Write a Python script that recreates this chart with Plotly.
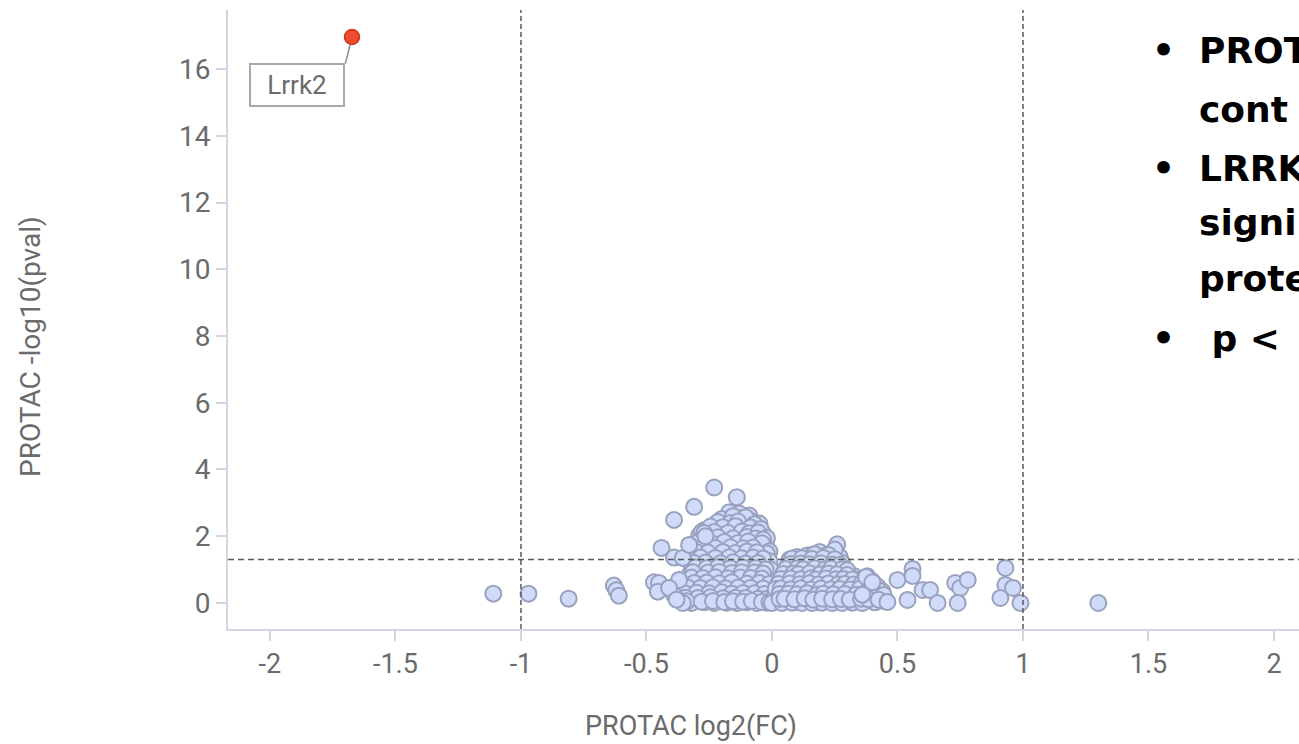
import plotly.graph_objects as go

# ---------------- data ----------------
# log2 fold change and -log10(p) for every quantified protein (PROTAC vs control)
fold_change = [
    # negative lobe
    -0.17, -0.13, -0.09,
    -0.20, -0.15, -0.115, -0.08, -0.05,
    -0.23, -0.18, -0.10, -0.06,
    -0.27, -0.21, -0.16, -0.13, -0.07, -0.035,
    -0.29, -0.25, -0.19, -0.14, -0.11, -0.04,
    -0.28, -0.23, -0.17, -0.12, -0.08, -0.05, -0.025,
    -0.30, -0.26, -0.20, -0.15, -0.10, -0.06, -0.03,
    -0.29, -0.24, -0.18, -0.13, -0.09, -0.045,
    -0.31, -0.27, -0.21, -0.16, -0.11, -0.07, -0.02,
    -0.30, -0.25, -0.19, -0.14, -0.09, -0.05, -0.015,
    -0.32, -0.28, -0.22, -0.17, -0.12, -0.07, -0.03,
    -0.29, -0.24, -0.20, -0.15, -0.10, -0.05, -0.01,
    -0.33, -0.27, -0.22, -0.18, -0.13, -0.08, -0.03,
    -0.30, -0.25, -0.20, -0.15, -0.11, -0.06, -0.02, 0.005,
    -0.34, -0.28, -0.23, -0.18, -0.13, -0.08, -0.04,
    -0.31, -0.26, -0.21, -0.16, -0.11, -0.06, -0.02, 0.01,
    -0.33, -0.28, -0.24, -0.19, -0.14, -0.09, -0.05, -0.01,
    -0.30, -0.26, -0.21, -0.17, -0.12, -0.07, -0.03, 0.00,
    -0.32, -0.27, -0.23, -0.18, -0.14, -0.10, -0.06, -0.02,
    -0.155, -0.105,
    -0.215, -0.165, -0.135, -0.07,
    -0.245, -0.195, -0.145, -0.085, -0.045,
    -0.28, -0.23, -0.175, -0.12, -0.09, -0.055, -0.02,
    -0.265, -0.215, -0.155, -0.10, -0.065, -0.035,
    -0.295, -0.245, -0.19, -0.135, -0.095, -0.04, -0.01,
    -0.275, -0.225, -0.165, -0.115, -0.075, -0.02,
    -0.30, -0.255, -0.195, -0.145, -0.10, -0.06, -0.01,
    -0.285, -0.225, -0.17, -0.12, -0.075, -0.035,
    -0.31, -0.265, -0.205, -0.155, -0.105, -0.055, -0.005,
    -0.305, -0.26, -0.215, -0.165, -0.115, -0.065, -0.025,
    -0.315, -0.255, -0.21, -0.16, -0.12, -0.07, -0.035,
    -0.32, -0.275, -0.225, -0.175, -0.125, -0.085, -0.04, 0.0,
    -0.31, -0.26, -0.21, -0.16, -0.10, -0.05, -0.01,
    -0.335, -0.285, -0.235, -0.185, -0.135, -0.085, -0.035, 0.015,
    -0.35, -0.30, -0.25, -0.20, -0.16, -0.115, -0.07, -0.03, 0.02,
    -0.345, -0.295, -0.245, -0.195, -0.145, -0.105, -0.055, -0.02, 0.015,
    -0.34, -0.28, -0.235, -0.19, -0.155, -0.115, -0.08, -0.04, -0.01,
    # left fringe
    -1.11, -0.97, -0.81, -0.63, -0.62, -0.61,
    -0.47, -0.45, -0.455, -0.44, -0.39, -0.31, -0.23, -0.14,
    -0.39, -0.355, -0.33, -0.37, -0.39, -0.355, -0.41, -0.38,
    -0.27, -0.265,
    # positive lobe
    0.26, 0.24, 0.19, 0.14, 0.10, 0.07,
    0.215, 0.27, 0.165,
    0.09, 0.13, 0.18, 0.23, 0.28,
    0.06, 0.11, 0.16, 0.20, 0.25, 0.29,
    0.05, 0.09, 0.14, 0.18, 0.22, 0.27, 0.31,
    0.04, 0.07, 0.12, 0.16, 0.20, 0.24, 0.29, 0.33, 0.38,
    0.03, 0.06, 0.10, 0.14, 0.19, 0.23, 0.27, 0.31, 0.35, 0.40,
    0.02, 0.05, 0.09, 0.13, 0.17, 0.21, 0.25, 0.30, 0.34, 0.37, 0.42,
    0.02, 0.06, 0.11, 0.15, 0.19, 0.24, 0.28, 0.32, 0.36, 0.40, 0.44,
    0.01, 0.04, 0.08, 0.12, 0.17, 0.22, 0.26, 0.30, 0.35, 0.39, 0.43,
    0.02, 0.06, 0.10, 0.14, 0.18, 0.21, 0.25, 0.29, 0.33, 0.37, 0.41, 0.45,
    0.00, 0.04, 0.08, 0.12, 0.16, 0.20, 0.24, 0.28, 0.32, 0.36,
    0.25,
    0.17, 0.225,
    0.08, 0.12, 0.16, 0.205, 0.25,
    0.075, 0.115, 0.15, 0.195, 0.24, 0.27,
    0.055, 0.10, 0.125, 0.17, 0.21, 0.235, 0.28, 0.30,
    0.045, 0.085, 0.105, 0.15, 0.19, 0.225, 0.26, 0.30, 0.35,
    0.035, 0.075, 0.115, 0.155, 0.175, 0.215, 0.255, 0.285, 0.32, 0.365,
    0.025, 0.07, 0.11, 0.15, 0.185, 0.225, 0.265, 0.29, 0.325, 0.355, 0.39,
    0.015, 0.035, 0.075, 0.115, 0.155, 0.195, 0.235, 0.27, 0.31, 0.35, 0.385, 0.425,
    0.03, 0.065, 0.10, 0.14, 0.18, 0.205, 0.245, 0.29, 0.335, 0.375, 0.415, 0.445,
    0.03, 0.05, 0.09, 0.13, 0.165, 0.20, 0.24, 0.275, 0.31, 0.355, 0.385, 0.425,
    # right fringe
    0.375, 0.40, 0.36, 0.46, 0.50, 0.54, 0.56, 0.56, 0.60, 0.63, 0.66,
    0.73, 0.75, 0.78, 0.74, 0.93, 0.93, 0.96, 0.91, 0.99, 1.30,
]

neg_log10_p = [
    2.72, 2.68, 2.62,
    2.52, 2.47, 2.55, 2.45, 2.38,
    2.34, 2.38, 2.30, 2.25,
    2.18, 2.22, 2.15, 2.24, 2.12, 2.08,
    2.02, 2.07, 1.98, 2.05, 1.95, 1.98,
    1.88, 1.92, 1.85, 1.90, 1.84, 1.88, 1.80,
    1.73, 1.76, 1.70, 1.78, 1.72, 1.68, 1.62,
    1.58, 1.62, 1.55, 1.60, 1.52, 1.50,
    1.43, 1.47, 1.40, 1.45, 1.38, 1.42, 1.35,
    1.28, 1.32, 1.25, 1.30, 1.22, 1.27, 1.15,
    1.13, 1.17, 1.10, 1.15, 1.08, 1.12, 1.05,
    0.98, 1.02, 0.95, 1.00, 0.93, 0.97, 0.90,
    0.83, 0.87, 0.80, 0.85, 0.78, 0.82, 0.75,
    0.68, 0.72, 0.65, 0.70, 0.63, 0.67, 0.60, 0.55,
    0.53, 0.57, 0.50, 0.55, 0.48, 0.52, 0.45,
    0.38, 0.42, 0.35, 0.40, 0.33, 0.37, 0.30, 0.35,
    0.23, 0.27, 0.20, 0.25, 0.18, 0.22, 0.15, 0.20,
    0.10, 0.13, 0.07, 0.12, 0.05, 0.10, 0.04, 0.08,
    0.00, 0.02, 0.00, 0.01, 0.00, 0.02, 0.00, 0.01,
    2.60, 2.57,
    2.43, 2.40, 2.44, 2.36,
    2.29, 2.27, 2.30, 2.26, 2.22,
    2.12, 2.13, 2.10, 2.14, 2.09, 2.11, 1.95,
    1.96, 1.97, 1.94, 1.98, 1.93, 1.90,
    1.82, 1.81, 1.83, 1.80, 1.84, 1.79, 1.55,
    1.66, 1.65, 1.67, 1.64, 1.66, 1.48,
    1.52, 1.51, 1.53, 1.50, 1.54, 1.52, 1.25,
    1.36, 1.35, 1.37, 1.34, 1.36, 1.33,
    1.20, 1.21, 1.19, 1.22, 1.18, 1.20, 1.00,
    1.06, 1.05, 1.07, 1.04, 1.06, 1.05, 1.00,
    0.92, 0.91, 0.93, 0.90, 0.92, 0.91, 0.88,
    0.76, 0.75, 0.77, 0.74, 0.76, 0.75, 0.73, 0.45,
    0.60, 0.61, 0.59, 0.62, 0.58, 0.60, 0.57,
    0.46, 0.45, 0.47, 0.44, 0.46, 0.45, 0.43, 0.25,
    0.30, 0.31, 0.29, 0.32, 0.28, 0.30, 0.29, 0.27, 0.15,
    0.16, 0.15, 0.17, 0.14, 0.16, 0.15, 0.13, 0.12, 0.05,
    0.05, 0.04, 0.06, 0.03, 0.05, 0.04, 0.06, 0.03, 0.02,
    0.28, 0.28, 0.13, 0.52, 0.38, 0.22,
    0.62, 0.60, 0.34, 1.65, 2.49, 2.88, 3.46, 3.17,
    1.36, 1.35, 1.74, 0.69, 0.24, 0.00, 0.45, 0.10,
    2.10, 2.00,
    1.76, 1.50, 1.53, 1.42, 1.38, 1.30,
    1.42, 1.38, 1.45,
    1.22, 1.28, 1.24, 1.30, 1.20,
    1.08, 1.12, 1.05, 1.14, 1.07, 1.02,
    0.93, 0.97, 0.92, 0.98, 0.90, 0.95, 0.88,
    0.78, 0.82, 0.76, 0.83, 0.77, 0.81, 0.74, 0.79, 0.80,
    0.63, 0.67, 0.61, 0.66, 0.60, 0.65, 0.62, 0.67, 0.60, 0.65,
    0.48, 0.52, 0.47, 0.51, 0.45, 0.50, 0.46, 0.53, 0.48, 0.45, 0.50,
    0.33, 0.37, 0.32, 0.36, 0.30, 0.35, 0.31, 0.38, 0.33, 0.30, 0.35,
    0.18, 0.22, 0.17, 0.21, 0.15, 0.20, 0.16, 0.22, 0.18, 0.14, 0.20,
    0.05, 0.08, 0.03, 0.07, 0.02, 0.06, 0.03, 0.08, 0.04, 0.07, 0.02, 0.05,
    0.00, 0.00, 0.01, 0.00, 0.00, 0.01, 0.00, 0.00, 0.01, 0.00,
    1.60,
    1.46, 1.44,
    1.33, 1.34, 1.32, 1.35, 1.31,
    1.17, 1.18, 1.16, 1.19, 1.15, 1.14,
    1.02, 1.03, 1.01, 1.04, 1.00, 1.03, 1.01, 0.98,
    0.87, 0.88, 0.86, 0.89, 0.85, 0.88, 0.86, 0.84, 0.70,
    0.72, 0.73, 0.71, 0.74, 0.70, 0.73, 0.71, 0.72, 0.70, 0.66,
    0.57, 0.58, 0.56, 0.59, 0.55, 0.58, 0.56, 0.57, 0.55, 0.56, 0.54,
    0.42, 0.43, 0.41, 0.44, 0.40, 0.43, 0.41, 0.42, 0.40, 0.43, 0.41, 0.38,
    0.27, 0.28, 0.26, 0.29, 0.25, 0.28, 0.26, 0.27, 0.25, 0.28, 0.26, 0.24,
    0.12, 0.13, 0.11, 0.14, 0.10, 0.13, 0.11, 0.12, 0.10, 0.13, 0.11, 0.10,
    0.78, 0.62, 0.25, 0.03, 0.69, 0.09, 1.02, 0.81, 0.39, 0.39, 0.00,
    0.60, 0.45, 0.69, 0.00, 1.05, 0.54, 0.45, 0.15, 0.00, 0.00,
]

# the one significant hit
hit_gene = ["Lrrk2"]
hit_fc = [-1.673]
hit_neg_log10_p = [16.96]

# significance thresholds
fc_cutoff = 1.0
p_cutoff_line = 1.301  # -log10(0.05)

x_tick_vals = [-2, -1.5, -1, -0.5, 0, 0.5, 1, 1.5, 2]
x_tick_text = ["-2", "-1.5", "-1", "-0.5", "0", "0.5", "1", "1.5", "2"]
y_tick_vals = [0, 2, 4, 6, 8, 10, 12, 14, 16]
y_tick_text = ["0", "2", "4", "6", "8", "10", "12", "14", "16"]

side_notes = [
    ("•", "PROTA"),
    ("", "cont"),
    ("•", "LRRK2"),
    ("", "signi"),
    ("", "prote"),
    ("•", " p <"),
]

# ---------------- layout geometry ----------------
W, H = 1299, 744
ML, MR, MT, MB = 228, 0, 10, 115
PW = W - ML - MR
PH = H - MT - MB


def px_x(px):
    return (px - ML) / PW


def px_y(py):
    return (MT + PH - py) / PH


AXIS_GREY = "#d3d6e2"
TEXT_GREY = "#6b6b6b"
DASH_GREY = "#5a5a5a"
NOTE_FONT = "DejaVu Sans"

fig = go.Figure()

fig.add_trace(go.Scatter(
    x=fold_change, y=neg_log10_p, mode="markers",
    marker=dict(size=16, color="#cfdbf8",
                line=dict(color="#98a2be", width=2)),
    hoverinfo="x+y", showlegend=False,
))

fig.add_trace(go.Scatter(
    x=hit_fc, y=hit_neg_log10_p, mode="markers", text=hit_gene,
    marker=dict(size=15, color="#f04a2f",
                line=dict(color="#c8371f", width=1.5)),
    hoverinfo="text+x+y", showlegend=False,
))

# threshold guides
for xv in (-fc_cutoff, fc_cutoff):
    fig.add_shape(type="line", x0=xv, x1=xv, y0=0, y1=1, xref="x", yref="paper",
                  line=dict(color=DASH_GREY, width=1.5, dash="5px,3px"))
fig.add_shape(type="line", x0=0, x1=1, y0=p_cutoff_line, y1=p_cutoff_line,
              xref="paper", yref="y",
              line=dict(color=DASH_GREY, width=1.5, dash="6px,4px"))

# leader line + boxed label for the hit
fig.add_annotation(x=hit_fc[0], y=hit_neg_log10_p[0], xref="x", yref="y",
                   text="", showarrow=True, arrowhead=0, arrowwidth=1.5,
                   arrowcolor="#8c8c8c", ax=-7, ay=28, standoff=8)
fig.add_annotation(x=hit_fc[0], y=hit_neg_log10_p[0], xref="x", yref="y",
                   text=hit_gene[0], showarrow=False, xshift=-55, yshift=-48,
                   font=dict(family="Roboto", size=26, color=TEXT_GREY),
                   bordercolor="#a8a8a8", borderwidth=2, borderpad=2,
                   bgcolor="white", width=88, height=36)

# axis titles
fig.add_annotation(x=px_x(691), y=px_y(726), xref="paper", yref="paper",
                   xanchor="center", yanchor="middle",
                   text="PROTAC log2(FC)", showarrow=False,
                   font=dict(family="Roboto", size=27, color=TEXT_GREY))
fig.add_annotation(x=px_x(30), y=px_y(347), xref="paper", yref="paper",
                   xanchor="center", yanchor="middle",
                   text="PROTAC -log10(pval)", showarrow=False, textangle=-90,
                   font=dict(family="Roboto", size=28, color=TEXT_GREY))

# bullet notes on the right
note_centers = [50, 110, 168, 222, 278, 338]
for (bullet, line), cy in zip(side_notes, note_centers):
    if bullet:
        fig.add_annotation(x=px_x(1163), y=px_y(cy), xref="paper", yref="paper",
                           text="<b>" + bullet + "</b>", showarrow=False,
                           xanchor="center", yanchor="middle",
                           font=dict(family=NOTE_FONT, size=36, color="black"))
    fig.add_annotation(x=px_x(1197), y=px_y(cy), xref="paper", yref="paper",
                       text="<b>" + line + "</b>", showarrow=False,
                       xanchor="left", yanchor="middle",
                       font=dict(family=NOTE_FONT, size=36, color="black"))

fig.update_xaxes(
    range=[-2.167, 2.0996], tickvals=x_tick_vals, ticktext=x_tick_text,
    showgrid=False, zeroline=False, showline=True, linecolor=AXIS_GREY,
    linewidth=2, ticks="outside", ticklen=10, tickcolor=AXIS_GREY, tickwidth=1.5,
    tickfont=dict(family="Roboto", size=27, color=TEXT_GREY),
)
fig.update_yaxes(
    range=[-0.78, 17.77], tickvals=y_tick_vals, ticktext=y_tick_text,
    showgrid=False, zeroline=False, showline=True, linecolor=AXIS_GREY,
    linewidth=2, ticks="outside", ticklen=10, tickcolor=AXIS_GREY, tickwidth=1.5,
    tickfont=dict(family="Roboto", size=28, color=TEXT_GREY),
)

fig.update_layout(
    width=W, height=H,
    margin=dict(l=ML, r=MR, t=MT, b=MB),
    paper_bgcolor="white", plot_bgcolor="white",
    showlegend=False,
)

fig.write_html("out.html")
